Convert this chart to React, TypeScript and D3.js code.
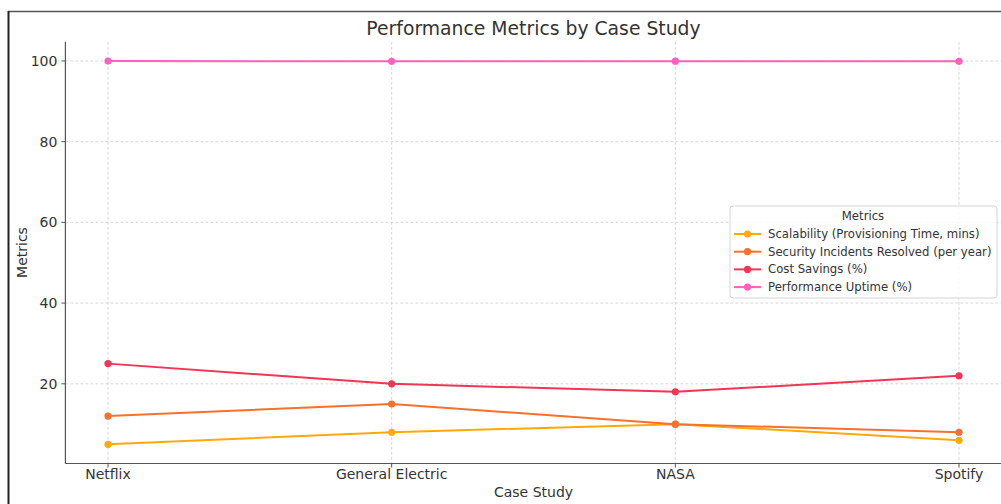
import React from "react";
import * as d3 from "d3";

const categories = ["Netflix", "General Electric", "NASA", "Spotify"];
const seriesNames = [
  "Scalability (Provisioning Time, mins)",
  "Security Incidents Resolved (per year)",
  "Cost Savings (%)",
  "Performance Uptime (%)",
];
const scalability = [5, 8, 10, 6];
const security = [12, 15, 10, 8];
const costSavings = [25, 20, 18, 22];
const uptime = [99.99, 99.9, 99.95, 99.9];
const colors = ["#ffa90a", "#f7712d", "#ef3656", "#ff5fc0"];
const yTicks = [20, 40, 60, 80, 100];

const W = 1001;
const H = 504;
const font = "DejaVu Sans, sans-serif";

export default function App() {
  const series = [scalability, security, costSavings, uptime];
  const x = d3.scalePoint<string>().domain(categories).range([108, 959]);
  const y = d3.scaleLinear().domain([0.25, 104.75]).range([463.5, 41.8]);
  const xLeft = 65.4;
  const xRight = 1001.5;
  const line = d3
    .line<number>()
    .x((_, i) => x(categories[i]) as number)
    .y((d) => y(d));

  const legX = 730;
  const legY = 206;
  return (
    <svg
      width={W}
      height={H}
      style={{ position: "absolute", left: 0, top: 0, background: "#fff" }}
      fontFamily={font}
    >
      <rect x={0} y={0} width={W} height={H} fill="#fff" />
      {/* outer frame */}
      <line x1={8} y1={11.5} x2={W} y2={11.5} stroke="#555" strokeWidth={1.5} />
      <line x1={8.5} y1={11} x2={8.5} y2={H} stroke="#222" strokeWidth={2} />

      {/* grid */}
      {yTicks.map((t) => (
        <line
          key={"gy" + t}
          x1={xLeft}
          x2={xRight}
          y1={y(t)}
          y2={y(t)}
          stroke="#cfcfcf"
          strokeWidth={0.8}
          strokeDasharray="3,2"
        />
      ))}
      {categories.map((c) => (
        <line
          key={"gx" + c}
          x1={x(c)}
          x2={x(c)}
          y1={y(104.75)}
          y2={y(0.25)}
          stroke="#cfcfcf"
          strokeWidth={0.8}
          strokeDasharray="3,2"
        />
      ))}

      {/* axes spines */}
      <line x1={xLeft} x2={xLeft} y1={41.8} y2={463.5} stroke="#555" strokeWidth={1.2} />
      <line x1={xLeft} x2={xRight} y1={463.5} y2={463.5} stroke="#555" strokeWidth={1.2} />

      {/* y ticks */}
      {yTicks.map((t) => (
        <g key={"yt" + t}>
          <line x1={xLeft - 4} x2={xLeft} y1={y(t)} y2={y(t)} stroke="#555" strokeWidth={1} />
          <text
            x={xLeft - 8}
            y={y(t)}
            dy="0.35em"
            textAnchor="end"
            fontSize={14}
            fill="#333"
          >
            {t}
          </text>
        </g>
      ))}
      {/* x ticks */}
      {categories.map((c) => (
        <g key={"xt" + c}>
          <line x1={x(c)} x2={x(c)} y1={463.5} y2={467.5} stroke="#555" strokeWidth={1} />
          <text x={x(c)} y={479} textAnchor="middle" fontSize={14} fill="#333">
            {c}
          </text>
        </g>
      ))}

      {/* series */}
      {series.map((s, si) => (
        <g key={"s" + si}>
          <path d={line(s) || ""} fill="none" stroke={colors[si]} strokeWidth={2} />
          {s.map((v, i) => (
            <circle key={i} cx={x(categories[i])} cy={y(v)} r={3.6} fill={colors[si]} />
          ))}
        </g>
      ))}

      {/* title and labels */}
      <text x={533.5} y={35} textAnchor="middle" fontSize={18.8} fill="#333">
        Performance Metrics by Case Study
      </text>
      <text x={533.5} y={497} textAnchor="middle" fontSize={14} fill="#333">
        Case Study
      </text>
      <text
        transform={`translate(27, 252.5) rotate(-90)`}
        textAnchor="middle"
        fontSize={14}
        fill="#333"
      >
        Metrics
      </text>

      {/* legend */}
      <rect
        x={legX}
        y={legY}
        width={267}
        height={92}
        rx={3}
        fill="#fff"
        fillOpacity={0.85}
        stroke="#d5d5d5"
        strokeWidth={1}
      />
      <text x={legX + 133} y={legY + 14} textAnchor="middle" fontSize={11.7} fill="#333">
        Metrics
      </text>
      {seriesNames.map((n, i) => {
        const cy = legY + 28 + i * 17.7;
        return (
          <g key={"lg" + i}>
            <line x1={legX + 4} x2={legX + 31} y1={cy} y2={cy} stroke={colors[i]} strokeWidth={2} />
            <circle cx={legX + 17.5} cy={cy} r={3.6} fill={colors[i]} />
            <text x={legX + 38} y={cy} dy="0.35em" fontSize={11.7} fill="#333">
              {n}
            </text>
          </g>
        );
      })}
    </svg>
  );
}
